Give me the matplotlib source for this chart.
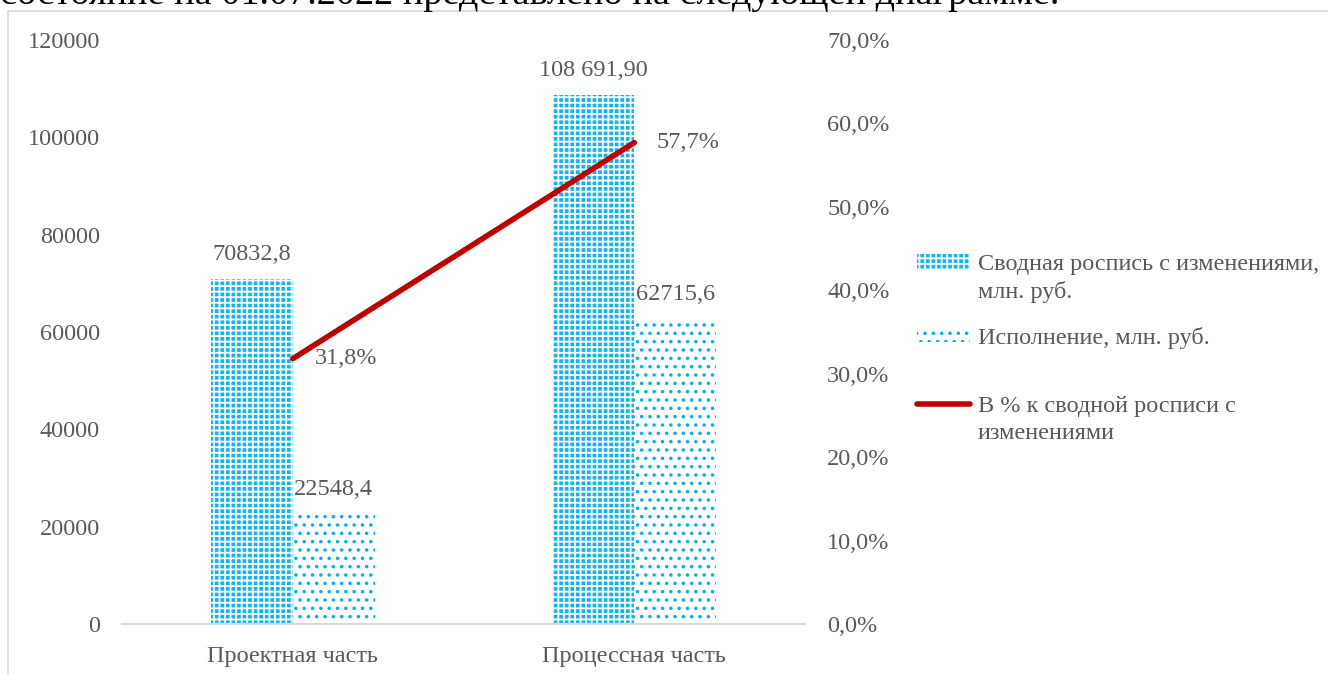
import matplotlib.pyplot as plt
from matplotlib.patches import Patch, Rectangle
from matplotlib.lines import Line2D

plt.rcParams['font.family'] = ['Liberation Serif', 'DejaVu Serif']
plt.rcParams['hatch.linewidth'] = 1.3

categories = ['Проектная часть', 'Процессная часть']
plan = [70832.8, 108691.90]
fact = [22548.4, 62715.6]
percent = [0.318, 0.577]
plan_labels = ['70832,8', '108 691,90']
fact_labels = ['22548,4', '62715,6']
percent_labels = ['31,8%', '57,7%']
left_ticks = [0, 20000, 40000, 60000, 80000, 100000, 120000]
right_ticks = [0, 0.1, 0.2, 0.3, 0.4, 0.5, 0.6, 0.7]
right_tick_labels = ['0,0%', '10,0%', '20,0%', '30,0%', '40,0%', '50,0%', '60,0%', '70,0%']
series_names = ['Сводная роспись с изменениями,\nмлн. руб.', 'Исполнение, млн. руб.',
                'В % к сводной росписи с\nизменениями']

txt = '#595959'
blue = '#00B0F0'
red = '#C00000'
fs = 17.5

fig = plt.figure(figsize=(13.28, 6.75), dpi=100)
W, H = 1328, 675

# header text, mostly cut off at the top
fig.text(0.0, 1 - 4 / H, 'состояние на 01.07.2022 представлено на следующей диаграмме.',
         fontsize=27.5, color='black', va='baseline', ha='left')

# chart frame
fig.patches.append(Rectangle((8 / W, -0.05), 1.1, 1 - 11 / H + 0.05, transform=fig.transFigure,
                             fill=False, edgecolor='#D9D9D9', lw=1.2))

ax = fig.add_axes([122 / W, 1 - 624 / H, (805 - 122) / W, (624 - 40) / H])
x = list(range(len(categories)))
w = 0.24
plan_style = dict(facecolor='#14B4F0', edgecolor='white', hatch='+++', lw=0)
fact_style = dict(facecolor='white', edgecolor=blue, hatch='..', lw=0)
ax.bar([i - w / 2 for i in x], plan, w, **plan_style)
ax.bar([i + w / 2 for i in x], fact, w, **fact_style)
ax.set_xlim(-0.5, 1.5)
ax.set_ylim(0, 120000)
ax.set_yticks(left_ticks)
ax.set_yticklabels([str(t) for t in left_ticks])
ax.set_xticks(x)
ax.set_xticklabels(categories)
for s in ['top', 'right', 'left']:
    ax.spines[s].set_visible(False)
ax.spines['bottom'].set_color('#D9D9D9')
ax.spines['bottom'].set_linewidth(1.5)
ax.tick_params(axis='y', length=0, pad=16, labelsize=fs, labelcolor=txt)
ax.tick_params(axis='x', length=0, pad=16, labelsize=fs, labelcolor=txt)

for i in x:
    ax.annotate(plan_labels[i], (i - w / 2, plan[i]), xytext=(0, 10), textcoords='offset points',
                ha='center', va='bottom', fontsize=fs, color=txt)
    ax.annotate(fact_labels[i], (i + w / 2, fact[i]), xytext=(0, 10), textcoords='offset points',
                ha='center', va='bottom', fontsize=fs, color=txt)

ax2 = ax.twinx()
ax2.plot(x, percent, color=red, lw=4, solid_capstyle='round')
ax2.set_ylim(0, 0.7)
ax2.set_yticks(right_ticks)
ax2.set_yticklabels(right_tick_labels)
for s in ['top', 'right', 'left', 'bottom']:
    ax2.spines[s].set_visible(False)
ax2.tick_params(axis='y', length=0, pad=16, labelsize=fs, labelcolor=txt)
for i in x:
    ax2.annotate(percent_labels[i], (i, percent[i]), xytext=(16, 0), textcoords='offset points',
                 ha='left', va='center', fontsize=fs, color=txt)

handles = [
    Patch(**plan_style),
    Patch(**fact_style),
    Line2D([0], [0], color=red, lw=4, solid_capstyle='round'),
]


def make_legend(h, l, top, spacing):
    leg = fig.legend(h, l, loc='upper left', bbox_to_anchor=(917 / W, 1 - top / H),
                     frameon=False, fontsize=fs, handlelength=2.2, handleheight=0.6,
                     handletextpad=0.3, labelspacing=spacing, borderaxespad=0, borderpad=0)
    for t in leg.get_texts():
        t.set_color(txt)
        t.set_linespacing(1.35)
    # put the marker next to the first line of a wrapped label
    for col in leg._legend_handle_box.get_children():
        for item in col.get_children():
            item.align = 'top'
    return leg


make_legend(handles[:2], series_names[:2], 254, 0.97)
make_legend(handles[2:], series_names[2:], 396, 1.0)

fig.savefig('out.png', dpi=100)
